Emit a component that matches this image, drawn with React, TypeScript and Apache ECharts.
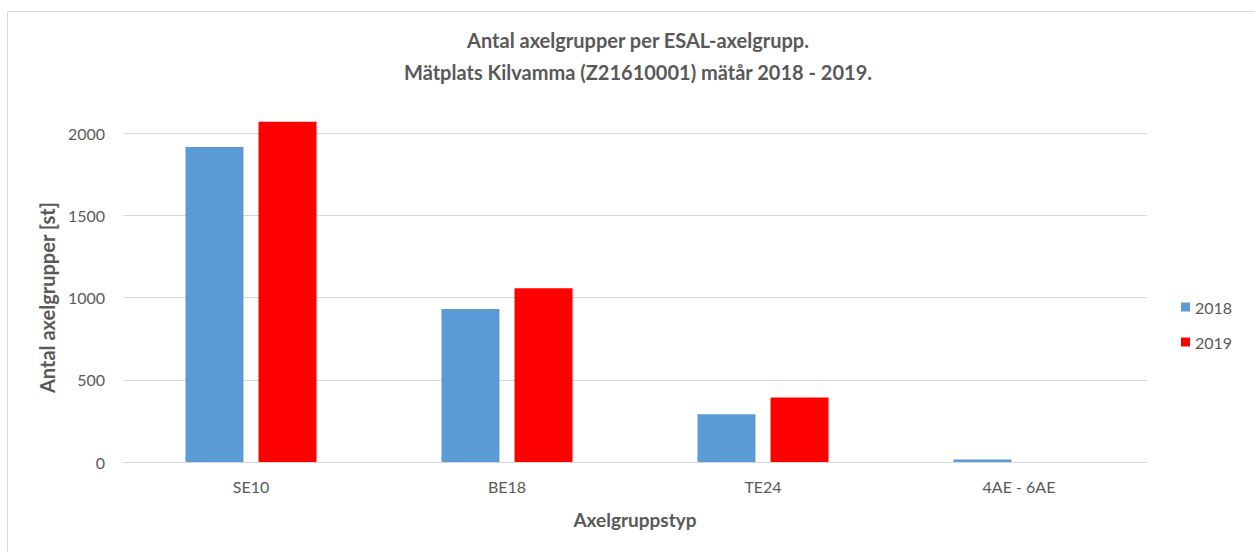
import React, { useEffect, useRef } from "react";
import * as echarts from "echarts";

const categories = ["SE10", "BE18", "TE24", "4AE - 6AE"];
const values2018 = [1915, 930, 290, 15];
const values2019 = [2068, 1056, 392, 0];
const seriesNames = ["2018", "2019"];
const titleLines = [
  "Antal axelgrupper per ESAL-axelgrupp.",
  "Mätplats Kilvamma (Z21610001) mätår 2018 - 2019.",
];
const yAxisTitle = "Antal axelgrupper [st]";
const xAxisTitle = "Axelgruppstyp";

const FONT = "Lato, 'Open Sans', sans-serif";
const GREY = "#595959";

export default function App() {
  const ref = useRef<HTMLDivElement>(null);
  useEffect(() => {
    if (!ref.current) return;
    const chart = echarts.init(ref.current, undefined, { renderer: "svg" });
    chart.setOption({
      animation: false,
      backgroundColor: "#ffffff",
      textStyle: { fontFamily: FONT },
      title: {
        text: titleLines.join("\n"),
        left: 633,
        top: 19,
        textAlign: "center",
        textStyle: {
          fontFamily: FONT,
          fontSize: 20,
          fontWeight: "bold",
          color: GREY,
          lineHeight: 32,
        },
      },
      graphic: [
        {
          type: "rect",
          shape: { x: 7.5, y: 11.5, width: 1300, height: 600 },
          style: { fill: "none", stroke: "#d9d9d9", lineWidth: 1 },
          silent: true,
        },
      ],
      legend: {
        orient: "vertical",
        left: 1181,
        top: 298,
        padding: 0,
        itemWidth: 9,
        itemHeight: 9,
        itemGap: 17,
        icon: "rect",
        textStyle: { fontFamily: FONT, fontSize: 16, color: GREY, lineHeight: 18 },
        data: seriesNames,
      },
      grid: { left: 123, right: 108, top: 133, bottom: 90 },
      xAxis: {
        type: "category",
        data: categories,
        name: xAxisTitle,
        nameLocation: "middle",
        nameGap: 48,
        nameTextStyle: { fontFamily: FONT, fontSize: 19, fontWeight: "bold", color: GREY },
        axisLine: { show: true, lineStyle: { color: "#d9d9d9" } },
        axisTick: { show: false },
        axisLabel: { fontFamily: FONT, fontSize: 16, color: GREY, margin: 16 },
      },
      yAxis: {
        type: "value",
        min: 0,
        max: 2000,
        interval: 500,
        name: yAxisTitle,
        nameLocation: "middle",
        nameGap: 66,
        nameTextStyle: { fontFamily: FONT, fontSize: 20, fontWeight: "bold", color: GREY },
        axisLine: { show: false },
        axisTick: { show: false },
        axisLabel: {
          fontFamily: FONT,
          fontSize: 16,
          color: GREY,
          margin: 18,
          formatter: (v: number) => String(v),
        },
        splitLine: { lineStyle: { color: "#d9d9d9", width: 1 } },
      },
      series: [
        {
          name: seriesNames[0],
          type: "bar",
          data: values2018,
          barWidth: 58,
          barGap: "26%",
          clip: false,
          itemStyle: { color: "#5b9bd5" },
        },
        {
          name: seriesNames[1],
          type: "bar",
          data: values2019,
          barWidth: 58,
          clip: false,
          itemStyle: { color: "#ff0000" },
        },
      ],
    });
    return () => chart.dispose();
  }, []);
  return (
    <div
      ref={ref}
      style={{ position: "fixed", left: 0, top: 0, width: 1255, height: 552 }}
    />
  );
}
